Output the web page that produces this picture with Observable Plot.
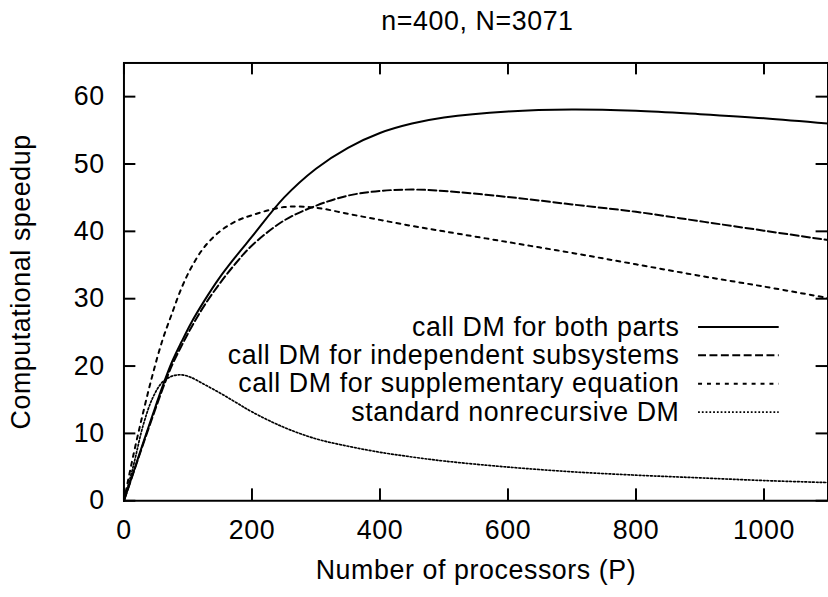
<!DOCTYPE html>
<html><head><meta charset="utf-8">
<script src="https://cdn.jsdelivr.net/npm/d3@7"></script>
<script src="https://cdn.jsdelivr.net/npm/@observablehq/plot@0.6"></script>
<style>
body{margin:0;background:#fff;}
#wrap{width:828px;height:597px;overflow:hidden;position:relative;background:#fff;}
</style></head><body><div id="wrap"></div>
<script>
const titleText = "n=400, N=3071";
const xLabel = "Number of processors (P)";
const yLabel = "Computational speedup";
const seriesNames = [
  "call DM for both parts",
  "call DM for independent subsystems",
  "call DM for supplementary equation",
  "standard nonrecursive DM"
];
const processors = [0, 15, 30, 45, 60, 75, 90, 105, 125, 150, 175, 200, 250, 300, 350, 400, 450, 500, 600, 700, 800, 900, 1000, 1100];
const bothParts    = [0, 4.3, 8.6, 12.8, 16.9, 20.6, 23.6, 26.4, 29.6, 33.2, 36.3, 39.2, 45.0, 49.3, 52.4, 54.6, 56.0, 56.9, 57.8, 58.1, 57.9, 57.4, 56.8, 56.0];
const independent  = [0, 4.2, 8.4, 12.5, 16.5, 20.1, 23.0, 25.7, 28.9, 32.3, 35.3, 37.9, 41.6, 43.8, 45.3, 46.0, 46.2, 46.0, 45.1, 44.0, 42.9, 41.5, 40.1, 38.7];
const supplementary= [0, 6.9, 13.1, 18.8, 23.8, 27.8, 31.6, 34.6, 37.6, 40.0, 41.5, 42.4, 43.6, 43.5, 42.6, 41.7, 40.8, 40.0, 38.4, 36.8, 35.1, 33.4, 31.8, 30.1];
const standard     = [0, 5.3, 11.2, 15.3, 17.6, 18.5, 18.7, 18.3, 17.3, 16.0, 14.6, 13.2, 10.9, 9.2, 8.1, 7.2, 6.5, 5.9, 5.0, 4.3, 3.8, 3.4, 3.0, 2.7];
const xTicks = [0, 200, 400, 600, 800, 1000];
const yTicks = [0, 10, 20, 30, 40, 50, 60];

const W = 835, H = 597, mL = 124.5, mR = 0.5, mT = 63, mB = 92.5;
const plotW = W - mL - mR, plotH = H - mT - mB;
const FONT = 27;

const seriesValues = [bothParts, independent, supplementary, standard];
const dashes = [null, "8,3.5", "4,5", "1.8,2"];
const widths = [2, 2, 2, 1.7];
const keys = ["both", "indep", "supp", "std"];
const table = processors.map((p, i) => {
  const row = {P: p};
  keys.forEach((k, j) => row[k] = seriesValues[j][i]);
  return row;
});

// legend placement (data units)
const legTextX = 868, legX1 = 897, legX2 = 1023, legY0 = 25.8, legStep = 4.21;

const marks = [];
marks.push(Plot.frame({stroke: "#000", strokeWidth: 2}));
// inward ticks on all sides
marks.push(Plot.tickX(xTicks, {x: d => d, insetTop: plotH - 12, stroke: "#000", strokeWidth: 2}));
marks.push(Plot.tickX(xTicks, {x: d => d, insetBottom: plotH - 12, stroke: "#000", strokeWidth: 2}));
marks.push(Plot.tickY(yTicks, {y: d => d, insetRight: plotW - 12, stroke: "#000", strokeWidth: 2}));
marks.push(Plot.tickY(yTicks, {y: d => d, insetLeft: plotW - 12, stroke: "#000", strokeWidth: 2}));
marks.push(Plot.axisX(xTicks, {tickSize: 0, tickPadding: 19.3, fontSize: FONT, label: null, fill: "#000", tickFormat: d => String(d)}));
marks.push(Plot.axisY(yTicks, {tickSize: 0, tickPadding: 19.5, fontSize: FONT, label: null, fill: "#000", tickFormat: d => String(d)}));

keys.forEach((k, j) => {
  marks.push(Plot.line(table, {x: "P", y: k, curve: "catmull-rom", stroke: "#000",
    strokeWidth: widths[j], strokeDasharray: dashes[j] || undefined}));
  marks.push(Plot.link([seriesNames[j]], {x1: () => legX1, x2: () => legX2,
    y1: () => legY0 - j * legStep, y2: () => legY0 - j * legStep,
    stroke: "#000", strokeWidth: widths[j], strokeDasharray: dashes[j] || undefined}));
});
marks.push(Plot.text(seriesNames, {x: () => legTextX, y: (d, i) => legY0 - i * legStep,
  text: d => d, textAnchor: "end", lineAnchor: "middle", fontSize: FONT, fill: "#000"}));

marks.push(Plot.text([titleText], {frameAnchor: "top", dx: 1.5, dy: -42.3, text: d => d,
  lineAnchor: "middle", fontSize: FONT, fill: "#000"}));
marks.push(Plot.text([xLabel], {frameAnchor: "bottom", dy: 69.9, text: d => d,
  lineAnchor: "middle", fontSize: FONT, fill: "#000"}));
marks.push(Plot.text([yLabel], {frameAnchor: "left", dx: -103, rotate: -90, text: d => d,
  textAnchor: "middle", lineAnchor: "middle", fontSize: FONT, fill: "#000"}));

const chart = Plot.plot({
  width: W, height: H,
  marginLeft: mL, marginRight: mR, marginTop: mT, marginBottom: mB,
  x: {domain: [0, 1100]},
  y: {domain: [0, 65]},
  style: {fontFamily: "'Liberation Sans', Arial, Helvetica, sans-serif", letterSpacing: "0.6px", background: "#fff", color: "#000", overflow: "visible"},
  marks
});
document.getElementById("wrap").appendChild(chart);
</script></body></html>
